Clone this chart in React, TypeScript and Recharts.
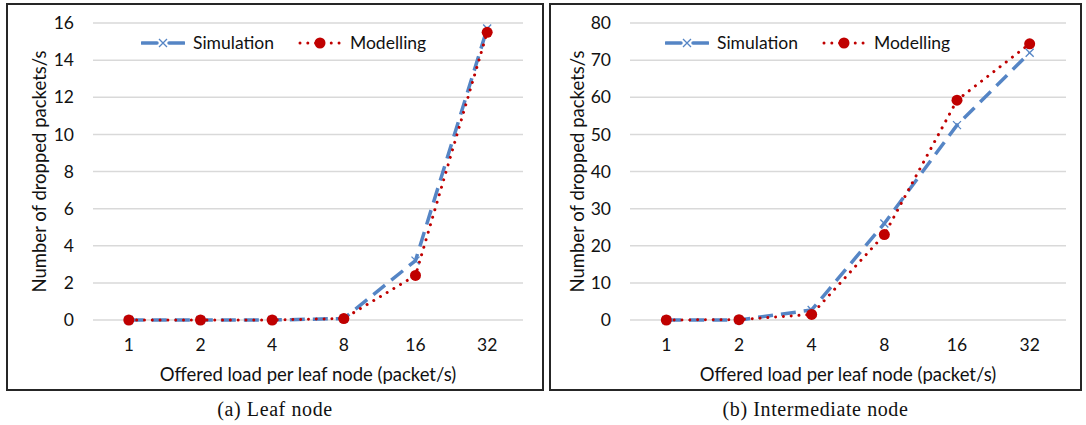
import React from 'react';
import { LineChart, Line, XAxis, YAxis, CartesianGrid, Legend } from 'recharts';

const categories = ['1', '2', '4', '8', '16', '32'];
const leafSimulation = [0, 0, 0, 0.08, 3.2, 15.7];
const leafModelling = [0, 0, 0, 0.08, 2.4, 15.5];
const intermediateSimulation = [0, 0, 2.7, 26, 52.5, 72];
const intermediateModelling = [0, 0.1, 1.5, 23, 59.2, 74.4];
const leafTicks = [0, 2, 4, 6, 8, 10, 12, 14, 16];
const intermediateTicks = [0, 10, 20, 30, 40, 50, 60, 70, 80];

const BLUE = '#5585C5';
const RED = '#C00000';
const FONT = 'Lato, "Open Sans", sans-serif';
const TEXT = '#111';

function CrossDot(props: any) {
  const { cx, cy, index } = props;
  if (cx == null || cy == null) return <g key={`x-${index}`} />;
  const s = 4;
  return (
    <path
      key={`x-${index}`}
      d={`M${cx - s},${cy - s}L${cx + s},${cy + s}M${cx - s},${cy + s}L${cx + s},${cy - s}`}
      stroke={BLUE}
      strokeWidth={1.3}
      fill="none"
    />
  );
}

function LegendContent() {
  return (
    <div style={{ display: 'flex', alignItems: 'center', fontFamily: FONT, fontSize: 17.5, color: TEXT, whiteSpace: 'nowrap' }}>
      <svg width={44} height={14} style={{ marginRight: 8 }}>
        <line x1={1} y1={7} x2={16} y2={7} stroke={BLUE} strokeWidth={3.5} strokeLinecap="round" />
        <line x1={28} y1={7} x2={43} y2={7} stroke={BLUE} strokeWidth={3.5} strokeLinecap="round" />
        <path d="M18,3L26,11M18,11L26,3" stroke={BLUE} strokeWidth={1.3} />
      </svg>
      <span>Simulation</span>
      <svg width={44} height={14} style={{ marginLeft: 24, marginRight: 8 }}>
        <line x1={2} y1={7} x2={43} y2={7} stroke={RED} strokeWidth={3} strokeLinecap="round" strokeDasharray="0.01 7.8" />
        <circle cx={22} cy={7} r={5.5} fill={RED} />
      </svg>
      <span>Modelling</span>
    </div>
  );
}

interface PanelProps {
  left: number;
  width: number;
  yWidth: number;
  rightMargin: number;
  legendLeft: number;
  labelX: number;
  simulation: number[];
  modelling: number[];
  ticks: number[];
  caption: string;
}

function Panel({ left, width, yWidth, rightMargin, legendLeft, labelX, simulation, modelling, ticks, caption }: PanelProps) {
  const data = categories.map((name, i) => ({ name, simulation: simulation[i], modelling: modelling[i] }));
  const chartW = width - 4;
  const chartH = 384;
  const top = 18;
  const xHeight = 69;
  const plotLeft = yWidth;
  const plotRight = chartW - rightMargin;
  const plotMid = (top + chartH - xHeight) / 2;
  const halfBand = (plotRight - plotLeft) / categories.length / 2;
  return (
    <>
      <div
        style={{
          position: 'absolute',
          left,
          top: 3,
          width,
          height: 388,
          border: '2px solid #262626',
          boxSizing: 'border-box',
          background: '#fff',
        }}
      >
        <LineChart width={chartW} height={chartH} data={data} margin={{ top, right: rightMargin, left: 0, bottom: 0 }}>
          <CartesianGrid horizontal vertical={false} stroke="#d9d9d9" strokeWidth={1.5} />
          <XAxis
            dataKey="name"
            height={xHeight}
            padding={{ left: halfBand, right: halfBand }}
            axisLine={false}
            tickLine={false}
            tickMargin={13}
            tick={{ fill: TEXT, fontSize: 17.5, fontFamily: FONT }}
            label={{
              content: () => (
                <text x={(plotLeft + plotRight) / 2} y={376} textAnchor="middle" fill={TEXT} fontSize={18.5} fontFamily={FONT}>
                  Offered load per leaf node (packet/s)
                </text>
              ),
            }}
          />
          <YAxis
            width={yWidth}
            domain={[ticks[0], ticks[ticks.length - 1]]}
            ticks={ticks}
            interval={0}
            axisLine={false}
            tickLine={false}
            tickMargin={13}
            tick={{ fill: TEXT, fontSize: 17.5, fontFamily: FONT }}
            label={{
              content: () => (
                <text
                  x={labelX}
                  y={plotMid}
                  transform={`rotate(-90 ${labelX} ${plotMid})`}
                  textAnchor="middle"
                  dominantBaseline="central"
                  fill={TEXT}
                  fontSize={18.5}
                  fontFamily={FONT}
                >
                  Number of dropped packets/s
                </text>
              ),
            }}
          />
          <Legend
            layout="horizontal"
            verticalAlign="middle"
            align="center"
            wrapperStyle={{ top: 27, left: legendLeft, width: 'auto' }}
            content={() => <LegendContent />}
          />
          <Line
            type="linear"
            dataKey="simulation"
            stroke={BLUE}
            strokeWidth={3.5}
            strokeDasharray="15 8"
            dot={CrossDot}
            activeDot={false}
            isAnimationActive={false}
          />
          <Line
            type="linear"
            dataKey="modelling"
            stroke={RED}
            strokeWidth={3}
            strokeLinecap="round"
            strokeDasharray="0.01 7.8"
            dot={{ r: 5.5, fill: RED, stroke: RED, strokeWidth: 0, strokeDasharray: '' }}
            activeDot={false}
            isAnimationActive={false}
          />
        </LineChart>
      </div>
      <div
        style={{
          position: 'absolute',
          left,
          top: 398,
          width,
          textAlign: 'center',
          fontFamily: '"Liberation Serif", "Times New Roman", serif',
          fontSize: 20,
          letterSpacing: 0.6,
          color: '#111',
        }}
      >
        {caption}
      </div>
    </>
  );
}

export default function App() {
  return (
    <div style={{ position: 'absolute', left: 0, top: 0, width: 1086, height: 425, background: '#fff' }}>
      <Panel
        left={6}
        width={538}
        yWidth={85}
        rightMargin={19}
        legendLeft={133}
        labelX={31}
        simulation={leafSimulation}
        modelling={leafModelling}
        ticks={leafTicks}
        caption="(a) Leaf node"
      />
      <Panel
        left={549}
        width={533}
        yWidth={79}
        rightMargin={14}
        legendLeft={114}
        labelX={26}
        simulation={intermediateSimulation}
        modelling={intermediateModelling}
        ticks={intermediateTicks}
        caption="(b) Intermediate node"
      />
    </div>
  );
}
